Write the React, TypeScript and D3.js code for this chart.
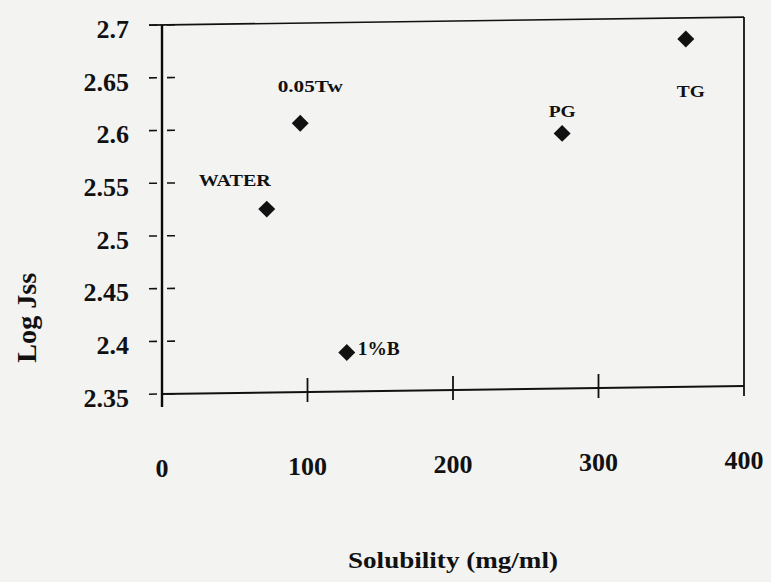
import React, { useEffect, useRef } from 'react';
import * as d3 from 'd3';

// values
const samples = ['WATER', '0.05Tw', '1%B', 'PG', 'TG'];
const solubility = [72, 95, 127, 275, 360];
const logJss = [2.524, 2.605, 2.387, 2.592, 2.68];

const xTicks = [0, 100, 200, 300, 400];
const yTicks = [2.35, 2.4, 2.45, 2.5, 2.55, 2.6, 2.65, 2.7];

const width = 771;
const height = 582;
const plot = { left: 162, right: 744, top: 25, bottom: 394 };

// where each point label sits relative to its marker (scan layout)
const labelStyle = {
  'WATER': { dx: -32, dy: -23, anchor: 'middle', len: 72, size: 17 },
  '0.05Tw': { dx: 10, dy: -31, anchor: 'middle', len: 65, size: 17 },
  '1%B': { dx: 11, dy: 3, anchor: 'start', len: 42, size: 19 },
  'PG': { dx: 0, dy: -16, anchor: 'middle', len: 27, size: 17 },
  'TG': { dx: 5, dy: 58, anchor: 'middle', len: 28, size: 17 },
};

const ink = '#111';
const font = '"Liberation Serif", "Times New Roman", serif';

// the scan is slightly sheared: horizontal lines rise to the right
const shear = -0.0137;
const sy = (px, py) => py + shear * (px - plot.left);

const App = () => {
  const ref = useRef(null);

  useEffect(() => {
    const svg = d3.select(ref.current);
    svg.selectAll('*').remove();

    svg.append('rect')
      .attr('width', width)
      .attr('height', height)
      .attr('fill', '#f3f3f1');

    const g = svg.append('g');

    const x = d3.scaleLinear().domain([0, 400]).range([plot.left, plot.right]);
    const y = d3.scaleLinear().domain([2.35, 2.7]).range([plot.bottom, plot.top]);

    const seg = (x1, y1, x2, y2, w, c = ink) =>
      g.append('line')
        .attr('x1', x1).attr('y1', sy(x1, y1))
        .attr('x2', x2).attr('y2', sy(x2, y2))
        .attr('stroke', c)
        .attr('stroke-width', w);

    // frame
    seg(plot.left - 13, plot.top, plot.right, plot.top, 1.7);
    seg(plot.right, plot.top, plot.right, plot.bottom + 10, 1.8);
    seg(plot.left, plot.bottom, plot.right, plot.bottom, 2);
    seg(plot.left, plot.top, plot.left, plot.bottom + 13, 2.4, '#0a0a0a');

    // y ticks: short dashes either side of the axis
    yTicks.forEach(v => {
      seg(plot.left - 13, y(v), plot.left - 5, y(v), 1.6);
      seg(plot.left + 5, y(v), plot.left + 13, y(v), 1.6);
    });
    g.append('g').selectAll('text')
      .data(yTicks)
      .enter()
      .append('text')
      .attr('x', 129)
      .attr('y', d => sy(110, y(d) + 3))
      .attr('dy', '0.35em')
      .attr('text-anchor', 'end')
      .style('font-family', font)
      .style('font-weight', 'bold')
      .style('font-size', '26px')
      .attr('fill', ink)
      .text(d => d3.format('~g')(d));

    // x ticks cross the axis
    xTicks.slice(1, -1).forEach(v => {
      seg(x(v), plot.bottom - 14, x(v), plot.bottom + 10, 1.8);
    });
    g.append('g').selectAll('text')
      .data(xTicks)
      .enter()
      .append('text')
      .attr('x', d => x(d))
      .attr('y', d => sy(x(d), 477))
      .attr('text-anchor', 'middle')
      .style('font-family', font)
      .style('font-weight', 'bold')
      .style('font-size', '26px')
      .attr('fill', ink)
      .text(d => d);

    // axis titles
    g.append('text')
      .attr('x', 453)
      .attr('y', sy(453, 572))
      .attr('text-anchor', 'middle')
      .attr('textLength', 210)
      .attr('lengthAdjust', 'spacingAndGlyphs')
      .style('font-family', font)
      .style('font-weight', 'bold')
      .style('font-size', '23px')
      .attr('fill', ink)
      .text('Solubility (mg/ml)');

    g.append('text')
      .attr('transform', `translate(36, ${sy(36, 316)}) rotate(-90)`)
      .attr('text-anchor', 'middle')
      .attr('textLength', 90)
      .attr('lengthAdjust', 'spacingAndGlyphs')
      .style('font-family', font)
      .style('font-weight', 'bold')
      .style('font-size', '27px')
      .attr('fill', ink)
      .text('Log Jss');

    // points
    const points = samples.map((s, i) => ({ name: s, vx: solubility[i], vy: logJss[i] }));
    const diamond = d3.symbol().type(d3.symbolSquare).size(144);

    g.selectAll('path.pt')
      .data(points)
      .enter()
      .append('path')
      .attr('class', 'pt')
      .attr('d', () => diamond())
      .attr('transform', d => `translate(${x(d.vx)},${sy(x(d.vx), y(d.vy))}) rotate(45)`)
      .attr('fill', ink);

    g.selectAll('text.pt-label')
      .data(points)
      .enter()
      .append('text')
      .attr('class', 'pt-label')
      .attr('x', d => x(d.vx) + labelStyle[d.name].dx)
      .attr('y', d => sy(x(d.vx), y(d.vy)) + labelStyle[d.name].dy)
      .attr('text-anchor', d => labelStyle[d.name].anchor)
      .attr('textLength', d => labelStyle[d.name].len)
      .attr('lengthAdjust', 'spacingAndGlyphs')
      .style('font-family', font)
      .style('font-weight', 'bold')
      .style('font-size', d => labelStyle[d.name].size + 'px')
      .attr('fill', ink)
      .text(d => d.name);
  }, []);

  return (
    <svg
      ref={ref}
      width={width}
      height={height}
      style={{ position: 'absolute', left: 0, top: 0, display: 'block' }}
    />
  );
};

export default App;
